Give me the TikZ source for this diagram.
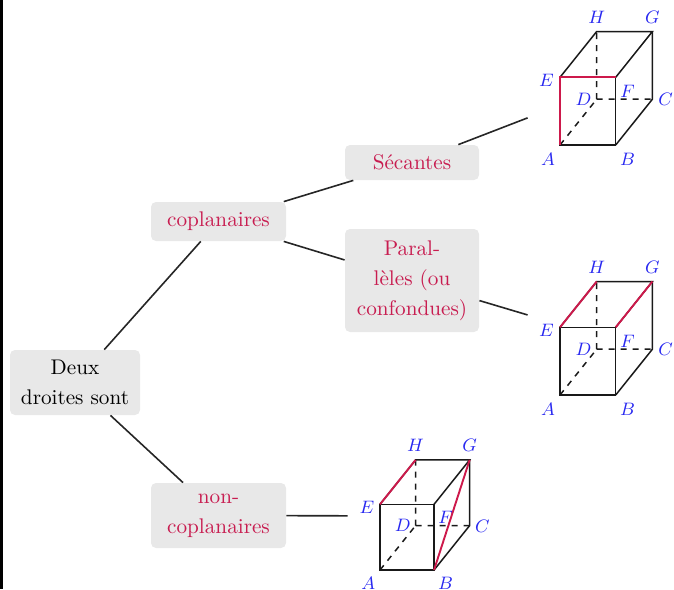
\documentclass[tikz,border=0pt]{standalone}
\definecolor{boxgray}{RGB}{232,232,232}
\definecolor{txtred}{RGB}{200,28,80}
\definecolor{cubered}{RGB}{205,25,75}
\definecolor{lblblue}{RGB}{40,40,240}
\tikzset{
  box/.style={fill=boxgray, rounded corners=2.5pt, inner sep=1pt, align=center,
    font=\fontsize{10.6}{15}\selectfont, text=txtred},
  conn/.style={line width=0.8pt, black!85},
  cedge/.style={line width=0.75pt, black!90},
  hid/.style={cedge, dashed},
  redge/.style={line width=0.95pt, cubered},
  lbl/.style={font=\fontsize{9}{10}\selectfont, text=lblblue, inner sep=0pt},
  cubeframe/.style={inner sep=0pt, minimum width=77pt, minimum height=78pt},
  cube/.pic={
    \coordinate (-A) at (0,0);
    \coordinate (-B) at (55.7,0);
    \coordinate (-E) at (0,-67.7);
    \coordinate (-F) at (55.7,-67.7);
    \coordinate (-D) at (36.7,-45.8);
    \coordinate (-C) at (92.4,-45.8);
    \coordinate (-H) at (36.7,-113.5);
    \coordinate (-G) at (92.4,-113.5);
    \draw[hid] (-A) -- (-D) (-D) -- (-H) (-D) -- (-C);
    \draw[cedge] (-A) -- (-B) -- (-F) -- (-E) -- cycle;
    \draw[cedge] (-E) -- (-H) -- (-G) -- (-F);
    \draw[cedge] (-G) -- (-C) -- (-B);
    \node[lbl] (-lA) at (-12,14) {$A$};
    \node[lbl] (-lB) at (67.5,14) {$B$};
    \node[lbl] (-lE) at (-13.5,-65) {$E$};
    \node[lbl] (-lF) at (67.5,-54) {$F$};
    \node[lbl] (-lD) at (23.5,-45.8) {$D$};
    \node[lbl] (-lC) at (105.5,-45.3) {$C$};
    \node[lbl] (-lH) at (36.7,-128) {$H$};
    \node[lbl] (-lG) at (92.4,-128) {$G$};
  }
}
\begin{document}
\begin{tikzpicture}[x=0.5pt,y=-0.5pt]
\useasboundingbox (0,0) rectangle (674,589);
\fill[black] (0,0) rectangle (2.5,589);

% tree nodes
\node[box, text=black, minimum width=65pt, minimum height=32.5pt] (deux) at (75,382.5) {Deux\\droites sont};
\node[box, minimum width=67.5pt, minimum height=19.5pt] (copl) at (218.5,221.5) {coplanaires};
\node[box, minimum width=67pt, minimum height=17.5pt] (sec) at (412,162.5) {S\'ecantes};
\node[box, minimum width=67pt, minimum height=51.5pt] (par) at (412,280.5) {Paral-\\l\`eles (ou\\confondues)};
\node[box, minimum width=67.5pt, minimum height=32.5pt] (nonc) at (218.5,515.5) {non-\\coplanaires};

% cube frames (invisible)
\node[cubeframe] (cube1) at (605,88) {};
\node[cubeframe] (cube2) at (605,338) {};
\node[cubeframe] (cube3) at (425,516) {};

% cubes
\pic (c1) at (560,145) {cube};
\pic (c2) at (560,395) {cube};
\pic[scale=0.97] (c3) at (380,570) {cube};

\draw[redge] (c1-A) -- (c1-E) -- (c1-F);
\draw[redge] (c2-E) -- (c2-H) (c2-F) -- (c2-G);
\draw[redge] (c3-E) -- (c3-H) (c3-B) -- (c3-G);

% connectors
\draw[conn] (deux) -- (copl);
\draw[conn] (deux) -- (nonc);
\draw[conn] (copl) -- (sec);
\draw[conn] (copl) -- (par);
\draw[conn] (sec) -- (cube1);
\draw[conn] (par) -- (cube2);
\draw[conn] (nonc) -- (cube3);
\end{tikzpicture}
\end{document}
